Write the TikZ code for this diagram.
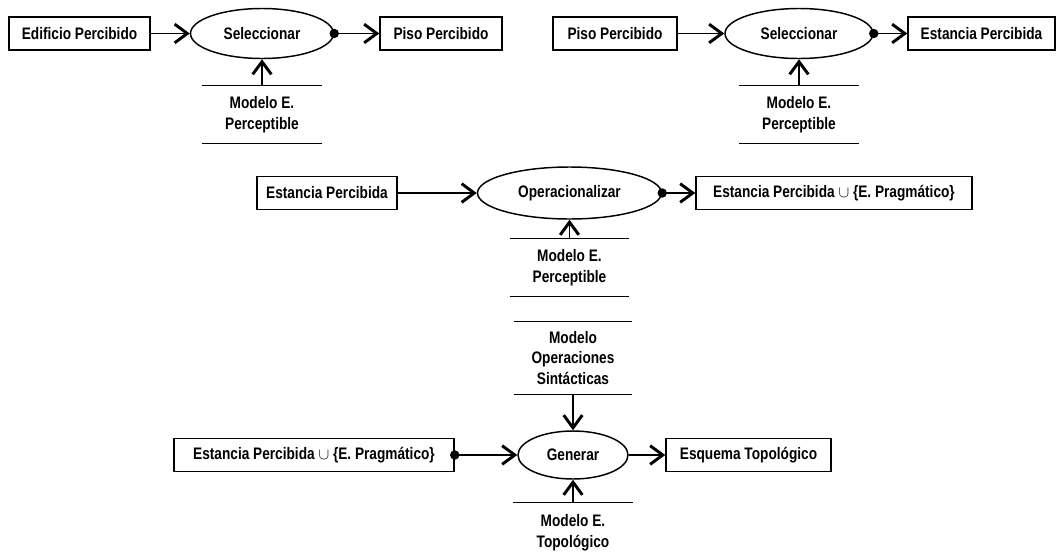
\documentclass[tikz,border=0pt]{standalone}
\usepackage{fontspec}
\setmainfont{Liberation Sans}[FakeStretch=0.82]
\usetikzlibrary{shapes.geometric,arrows.meta}

\tikzset{
  texto/.style={font=\fontsize{12.5}{15.5}\selectfont\bfseries},
  caja/.style={texto, draw, line width=1.1pt, inner sep=0pt, minimum height=24.75pt},
  proceso/.style={texto, draw, ellipse, line width=1.1pt, inner sep=0pt},
  modelo/.style={texto, align=center, inner sep=0pt, minimum width=89.25pt, minimum height=42.75pt},
  raya/.style={line width=1.1pt},
  flecha/.style={line width=1.1pt, -{Straight Barb[length=9.5pt,width=14pt,line width=2.2pt]}},
  flechapunto/.style={flecha, {Circle[length=7pt]}-{Straight Barb[length=9.5pt,width=14pt,line width=2.2pt]}, shorten <=-3.5pt}
}

\begin{document}
\begin{tikzpicture}[x=0.75pt, y=-0.75pt]
\useasboundingbox (0,0) rectangle (1057,557);

% fila 1, izquierda
\node[caja, minimum width=105.75pt] (edif) at (79.5,33.5) {Edificio Percibido};
\node[proceso, minimum width=107.25pt, minimum height=37.5pt] (sel1) at (262,33.5) {Seleccionar};
\node[caja, minimum width=91.5pt] (piso1) at (441,33.5) {Piso Percibido};
\node[modelo] (mep1) at (262,114.5) {Modelo E.\\Perceptible};
\draw[raya] (mep1.north west) -- (mep1.north east);
\draw[raya] (mep1.south west) -- (mep1.south east);
\draw[flecha] (edif.east) -- (sel1.west);
\draw[flechapunto] (sel1.east) -- (piso1.west);
\draw[flecha] (mep1.north) -- (sel1.south);

% fila 1, derecha
\node[caja, minimum width=93pt] (piso2) at (615,33.5) {Piso Percibido};
\node[proceso, minimum width=111pt, minimum height=37.5pt] (sel2) at (799,33.5) {Seleccionar};
\node[caja, minimum width=110.25pt] (est1) at (981.5,33.5) {Estancia Percibida};
\node[modelo] (mep2) at (799,114.5) {Modelo E.\\Perceptible};
\draw[raya] (mep2.north west) -- (mep2.north east);
\draw[raya] (mep2.south west) -- (mep2.south east);
\draw[flecha] (piso2.east) -- (sel2.west);
\draw[flechapunto] (sel2.east) -- (est1.west);
\draw[flecha] (mep2.north) -- (sel2.south);

% fila 2
\node[caja, minimum width=105pt] (est2) at (327,193) {Estancia Percibida};
\node[proceso, minimum width=138pt, minimum height=39pt] (oper) at (569.5,193) {Operacionalizar};
\node[caja, minimum width=207pt] (estprag) at (834,193) {Estancia Percibida $\cup$ \{E. Pragmático\}};
\node[modelo] (mep3) at (569.5,267.5) {Modelo E.\\Perceptible};
\draw[raya] (mep3.north west) -- (mep3.north east);
\draw[raya] (mep3.south west) -- (mep3.south east);
\draw[flecha] (est2.east) -- (oper.west);
\draw[flechapunto] (oper.east) -- (estprag.west);
\draw[flecha] (mep3.north) -- (oper.south);

\node[modelo, minimum width=88.5pt, minimum height=54pt] (mos) at (573,358) {Modelo\\Operaciones\\Sintácticas};
\draw[raya] (mos.north west) -- (mos.north east);
\draw[raya] (mos.south west) -- (mos.south east);

% fila 3
\node[caja, minimum width=210pt] (estprag3) at (314,455) {Estancia Percibida $\cup$ \{E. Pragmático\}};
\node[proceso, minimum width=82.5pt, minimum height=36pt] (gen) at (573,455) {Generar};
\node[caja, minimum width=123.75pt] (esq) at (748.5,455) {Esquema Topológico};
\node[modelo, minimum height=45pt] (met) at (573,533) {Modelo E.\\Topológico};
\draw[raya] (met.north west) -- (met.north east);
\draw[flechapunto] (estprag3.east) -- (gen.west);
\draw[flecha] (gen.east) -- (esq.west);
\draw[flecha] (mos.south) -- (gen.north);
\draw[flecha] (met.north) -- (gen.south);
\end{tikzpicture}
\end{document}
